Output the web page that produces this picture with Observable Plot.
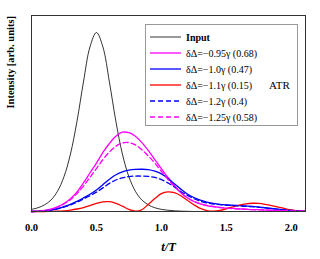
<!DOCTYPE html>
<html><head><meta charset="utf-8">
<script src="https://cdn.jsdelivr.net/npm/d3@7"></script>
<script src="https://cdn.jsdelivr.net/npm/@observablehq/plot@0.6"></script>
<style>body{margin:0;background:#fff} svg text{font-family:'Liberation Serif','Times New Roman',serif}</style>
</head><body><div id="chart"></div>
<script>
const t = [0,0.05,0.1,0.15,0.2,0.25,0.3,0.35,0.4,0.45,0.5,0.55,0.6,0.65,0.7,0.75,0.8,0.85,0.9,0.95,1.0,1.05,1.1,1.15,1.2,1.25,1.3,1.35,1.4,1.45,1.5,1.55,1.6,1.65,1.7,1.75,1.8,1.85,1.9,1.95,2.0,2.05,2.1];
const input = [0.012,0.021,0.037,0.064,0.113,0.194,0.321,0.503,0.723,0.919,1.0,0.919,0.723,0.503,0.321,0.194,0.113,0.064,0.037,0.021,0.012,0.007,0.004,0.002,0.001,0,0,0,0,0,0,0,0,0,0,0,0,0,0,0,0,0,0];
const m095 = [0,0.002,0.006,0.013,0.026,0.045,0.072,0.11,0.16,0.215,0.27,0.33,0.38,0.42,0.443,0.44,0.42,0.385,0.34,0.29,0.24,0.19,0.145,0.105,0.077,0.056,0.042,0.033,0.027,0.022,0.019,0.017,0.015,0.013,0.011,0.01,0.008,0.007,0.006,0.005,0.004,0.003,0.003];
const m100 = [0,0.001,0.004,0.008,0.016,0.027,0.04,0.057,0.076,0.096,0.12,0.15,0.18,0.205,0.222,0.231,0.235,0.236,0.234,0.225,0.21,0.185,0.155,0.125,0.098,0.078,0.063,0.052,0.045,0.04,0.037,0.035,0.033,0.031,0.028,0.025,0.021,0.017,0.013,0.009,0.006,0.004,0.003];
const m110 = [0,0,0,0.001,0.002,0.004,0.008,0.014,0.022,0.033,0.045,0.054,0.055,0.046,0.03,0.012,0.002,0.01,0.04,0.072,0.1,0.11,0.105,0.088,0.063,0.038,0.017,0.005,0.002,0.006,0.015,0.026,0.036,0.043,0.046,0.045,0.04,0.033,0.025,0.016,0.009,0.004,0.002];
const m120 = [0,0.001,0.004,0.008,0.015,0.025,0.037,0.052,0.07,0.088,0.108,0.132,0.157,0.176,0.188,0.195,0.198,0.198,0.196,0.19,0.178,0.16,0.137,0.112,0.09,0.072,0.058,0.048,0.042,0.038,0.035,0.033,0.031,0.029,0.027,0.024,0.02,0.016,0.012,0.009,0.006,0.004,0.003];
const m125 = [0,0.002,0.005,0.012,0.024,0.042,0.066,0.1,0.142,0.19,0.24,0.29,0.333,0.365,0.383,0.385,0.372,0.345,0.31,0.27,0.225,0.18,0.14,0.105,0.077,0.057,0.043,0.034,0.028,0.023,0.019,0.016,0.014,0.012,0.01,0.009,0.008,0.007,0.006,0.005,0.004,0.003,0.003];

const seriesNames = ["Input","δΔ=−0.95γ (0.68)","δΔ=−1.0γ (0.47)","δΔ=−1.1γ (0.15)","δΔ=−1.2γ (0.4)","δΔ=−1.25γ (0.58)"];
const seriesValues = [input, m095, m100, m110, m120, m125];
const seriesColors = ["#000000","#ff00ff","#0000ff","#ff0000","#0000ff","#ff00ff"];
const seriesDash = [null,null,null,null,"5,3","5,3"];
const seriesWidth = [0.8,1.3,1.3,1.3,1.3,1.3];
const xTicks = [0,0.5,1.0,1.5,2.0];

const font = "'Liberation Serif', 'Times New Roman', serif";
const lineMarks = seriesValues.map((vals, i) =>
  Plot.line(t.map((x, j) => ({t: x, v: vals[j]})), {
    x: "t", y: "v", stroke: seriesColors[i], strokeWidth: seriesWidth[i],
    strokeDasharray: seriesDash[i], curve: "catmull-rom"
  })
);

const plot = Plot.plot({
  width: 320, height: 259,
  marginLeft: 31, marginRight: 15, marginTop: 15, marginBottom: 48,
  style: {fontFamily: font, background: "#fff"},
  x: {domain: [0, 2.11]},
  y: {domain: [0, 1.095], axis: null},
  marks: [
    ...lineMarks,
    Plot.frame({stroke: "#333", strokeWidth: 1}),
    Plot.axisX(xTicks, {tickSize: 0, tickPadding: 12, tickFormat: d3.format(".1f"),
      fontSize: 10.5, fontWeight: "bold", label: null, fill: "#000"}),
    Plot.text(["t/T"], {frameAnchor: "bottom", dy: 39, fontSize: 12.5, fontWeight: "bold",
      fontStyle: "italic", fill: "#000"}),
    Plot.text(["Intensity [arb. units]"], {frameAnchor: "left", dx: -21, dy: -5, rotate: -90,
      fontSize: 10.5, fontWeight: "bold", fill: "#000"})
  ]
});
document.getElementById("chart").appendChild(plot);

// legend
const svg = d3.select(plot);
const lg = svg.append("g").attr("font-family", font).attr("text-anchor", "start").attr("fill", "#000");
lg.append("rect").attr("x", 145.5).attr("y", 24.5).attr("width", 152).attr("height", 101)
  .attr("fill", "#fff").attr("stroke", "#999").attr("stroke-width", 1);
seriesNames.forEach((name, i) => {
  const y = 37 + i * 16;
  lg.append("line").attr("x1", 150).attr("x2", 181).attr("y1", y).attr("y2", y)
    .attr("stroke", seriesColors[i]).attr("stroke-width", seriesWidth[i])
    .attr("stroke-dasharray", seriesDash[i]);
  lg.append("text").attr("x", 186).attr("y", y).attr("dy", "0.35em")
    .attr("text-anchor", "start")
    .attr("font-size", 10).attr("font-weight", i === 0 ? "bold" : "normal")
    .text(name);
});
lg.append("text").attr("x", 269).attr("y", 85).attr("dy", "0.35em").attr("text-anchor", "start")
  .attr("font-size", 11).text("ATR");
</script></body></html>
